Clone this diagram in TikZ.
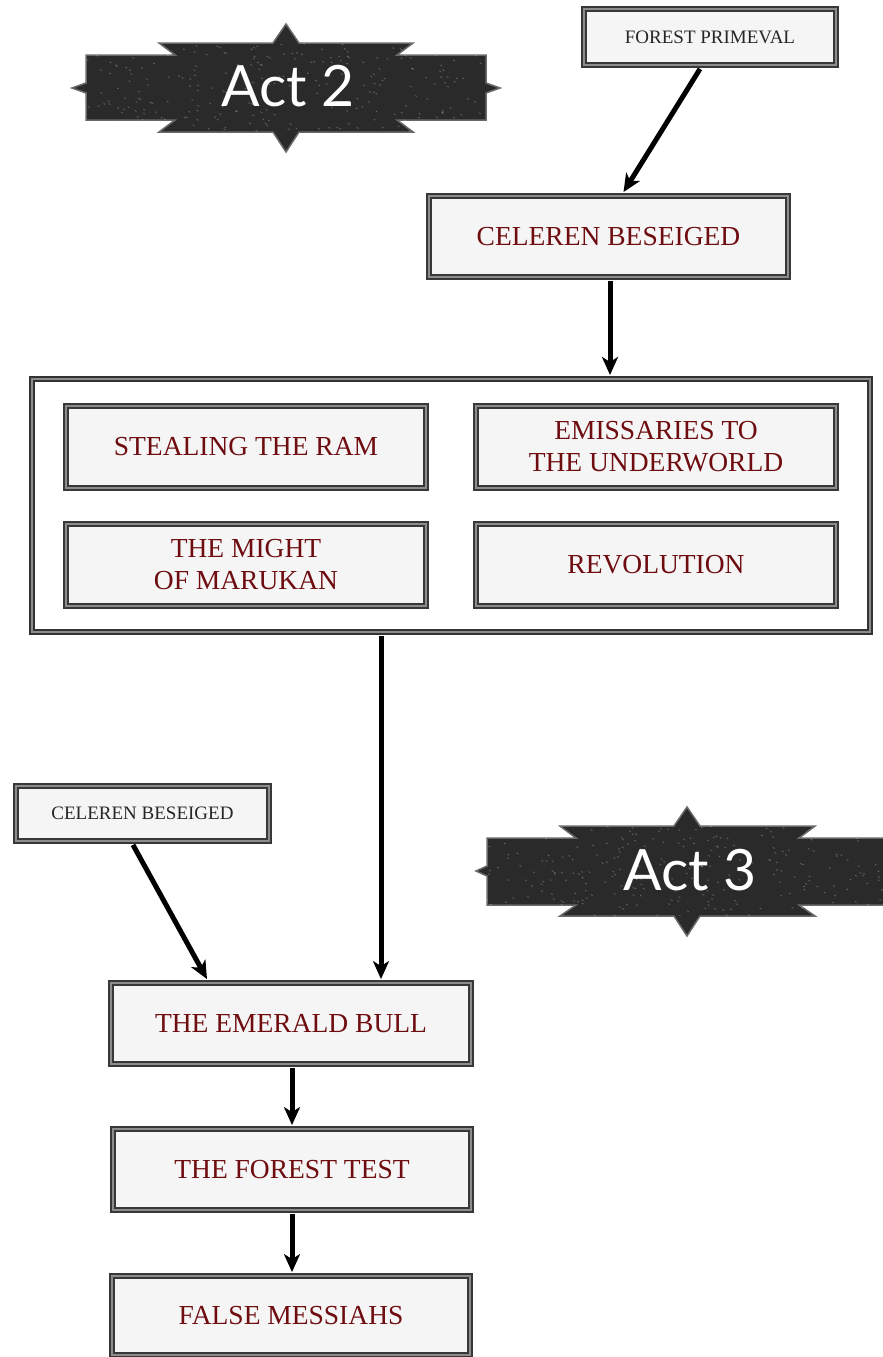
\documentclass[tikz,border=0pt]{standalone}
\usepackage{fontspec}
\setmainfont{Liberation Serif}
\newfontfamily\actfont{Lato}
\usetikzlibrary{arrows.meta,calc}
\definecolor{boxred}{RGB}{110,12,16}
\definecolor{bannerdark}{RGB}{42,42,42}
\definecolor{bannerrim}{RGB}{105,105,105}
\begin{document}
\begin{tikzpicture}[x=1pt,y=-1pt,
  tbox/.style={rectangle, draw=black!78, double=black!45, double distance=1.6pt, line width=1.8pt, fill=black!4, inner sep=0pt, align=center, text=boxred, font=\fontsize{27.5}{32}\selectfont},
  sbox/.style={tbox, text=black!85, font=\fontsize{19}{23}\selectfont},
  grpbox/.style={rectangle, draw=black!80, double=black!45, double distance=2pt, line width=2pt, fill=white, inner sep=0pt},
  arr/.style={line width=5pt, -{Stealth[length=18pt,width=16pt,inset=5pt]}},
  bannerfill/.style={fill=bannerdark, draw=bannerrim, line width=1.5pt, line join=miter},
  acttext/.style={text=white, font=\actfont\fontsize{57}{57}\selectfont, inner sep=0pt},
  speck/.style={fill=white, opacity=0.3}]
\useasboundingbox (0,0) rectangle (883,1357);
\fill[white] (0,0) rectangle (883,1357);
\pgfmathsetseed{7}
% Act 2 banner
\draw[bannerfill] (72,88) -- (86,83) -- (86,55) -- (175,55) -- (159,43) -- (273,43) -- (286,24) -- (299,43) -- (413,43) -- (397,55) -- (486,55) -- (486,83) -- (500,88) -- (486,93) -- (486,120) -- (397,120) -- (413,132) -- (299,132) -- (286,152) -- (273,132) -- (159,132) -- (175,120) -- (86,120) -- (86,93) -- cycle;
\begin{scope}
\clip (86,55) rectangle (486,120) (159,43) rectangle (413,132);
\foreach \i in {1,...,260} {
  \pgfmathsetmacro\xx{86+400*rnd}
  \pgfmathsetmacro\yy{43+89*rnd}
  \fill[speck] (\xx,\yy) ellipse [x radius=1.3pt, y radius=0.5pt, rotate=-35];
}
\end{scope}
\node[acttext] (act2) at (288,86) {Act 2};
% Act 3 banner
\begin{scope}
\clip (0,0) rectangle (883,1357);
\draw[bannerfill] (476,871) -- (487,866) -- (487,838) -- (576,838) -- (560,826) -- (674,826) -- (687,807) -- (700,826) -- (815,826) -- (799,838) -- (900,838) -- (900,905) -- (799,905) -- (815,916) -- (700,916) -- (687,936) -- (674,916) -- (560,916) -- (576,905) -- (487,905) -- (487,876) -- cycle;
\clip (487,838) rectangle (883,905) (560,826) rectangle (815,916);
\foreach \i in {1,...,260} {
  \pgfmathsetmacro\xx{487+396*rnd}
  \pgfmathsetmacro\yy{826+90*rnd}
  \fill[speck] (\xx,\yy) ellipse [x radius=1.3pt, y radius=0.5pt, rotate=-35];
}
\end{scope}
\node[acttext] (act3) at (690,870) {Act 3};
% boxes
\node[sbox, minimum width=252pt, minimum height=56pt] (fp) at (710,37) {FOREST PRIMEVAL};
\node[tbox, minimum width=359pt, minimum height=81pt] (cb) at (608.5,236.5) {CELEREN BESEIGED};
\node[grpbox, minimum width=838pt, minimum height=253pt] (grp) at (451,505.5) {};
\node[tbox, minimum width=360pt, minimum height=82pt] (st) at (246,447) {STEALING THE RAM};
\node[tbox, minimum width=360pt, minimum height=82pt] (em) at (656,447) {EMISSARIES TO\\THE UNDERWORLD};
\node[tbox, minimum width=360pt, minimum height=82pt] (mi) at (246,565) {THE MIGHT\\OF MARUKAN};
\node[tbox, minimum width=360pt, minimum height=82pt] (rv) at (656,565) {REVOLUTION};
\node[sbox, minimum width=253pt, minimum height=55pt] (cs) at (142.5,813.5) {CELEREN BESEIGED};
\node[tbox, minimum width=360pt, minimum height=81pt] (eb) at (291,1023.5) {THE EMERALD BULL};
\node[tbox, minimum width=358pt, minimum height=81pt] (ft) at (292,1169.5) {THE FOREST TEST};
\node[tbox, minimum width=358pt, minimum height=79pt] (fm) at (291,1315.5) {FALSE MESSIAHS};
% connectors
\draw[arr] ([xshift=-10pt,yshift=-3pt]fp.south) -- ([xshift=15pt,yshift=3pt]cb.north);
\draw[arr] ([xshift=1.5pt,yshift=-3pt]cb.south) -- ([xshift=1.5pt,yshift=3pt]cb.south |- grp.north);
\draw[arr] ([xshift=-70pt,yshift=-3pt]grp.south) -- ([xshift=-70pt,yshift=3pt]grp.south |- eb.north);
\draw[arr] ([xshift=-9.5pt,yshift=-3pt]cs.south) -- ([xshift=-84pt,yshift=3pt]eb.north);
\draw[arr] ([xshift=1pt,yshift=-3pt]eb.south) -- ([xshift=0pt,yshift=3pt]ft.north);
\draw[arr] ([xshift=0pt,yshift=-3pt]ft.south) -- ([xshift=1pt,yshift=3pt]fm.north);
\end{tikzpicture}
\end{document}
